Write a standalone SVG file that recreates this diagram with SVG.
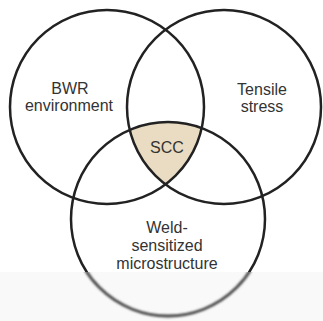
<svg xmlns="http://www.w3.org/2000/svg" width="323" height="321" viewBox="0 0 323 321">
  <style>
    .ring { fill: none; stroke: #222; stroke-width: 2.5; }
    .lbl { font-family: "Liberation Sans", Arial, Helvetica, sans-serif; font-size: 16px; fill: #333; text-anchor: middle; }
  </style>
  <defs>
    <clipPath id="cRight"><circle cx="224" cy="107" r="97"/></clipPath>
    <clipPath id="cBottom"><circle cx="168" cy="219" r="97"/></clipPath>
    <clipPath id="upper"><rect x="0" y="0" width="323" height="272"/></clipPath>
    <clipPath id="lower"><rect x="0" y="272" width="323" height="49"/></clipPath>
    <filter id="soft" x="-10%" y="-10%" width="120%" height="120%">
      <feGaussianBlur stdDeviation="1.2"/>
    </filter>
  </defs>
  <rect width="323" height="321" fill="#ffffff"/>
  <rect x="0" y="272" width="323" height="49" fill="#f9f9f9"/>

  <g id="scc">
    <g clip-path="url(#cRight)">
      <circle cx="107" cy="107" r="97" fill="#e9dcc2" clip-path="url(#cBottom)"/>
    </g>
    <text class="lbl" x="167" y="153">SCC</text>
  </g>

  <g id="connectors"></g>

  <g id="bwr">
    <circle class="ring" cx="107" cy="107" r="97"/>
    <text class="lbl" x="70" y="94">BWR</text>
    <text class="lbl" x="69" y="111">environment</text>
  </g>

  <g id="tensile">
    <circle class="ring" cx="224" cy="107" r="97"/>
    <text class="lbl" x="262" y="94.5">Tensile</text>
    <text class="lbl" x="262" y="111.5">stress</text>
  </g>

  <g id="weld">
    <circle class="ring" cx="168" cy="219" r="97" clip-path="url(#upper)"/>
    <g clip-path="url(#lower)">
      <circle cx="168" cy="219" r="97" fill="none" stroke="#444" stroke-width="2.8" filter="url(#soft)"/>
    </g>
    <text class="lbl" x="167" y="233">Weld-</text>
    <text class="lbl" x="167" y="251">sensitized</text>
    <text class="lbl" x="167" y="269">microstructure</text>
  </g>
</svg>
